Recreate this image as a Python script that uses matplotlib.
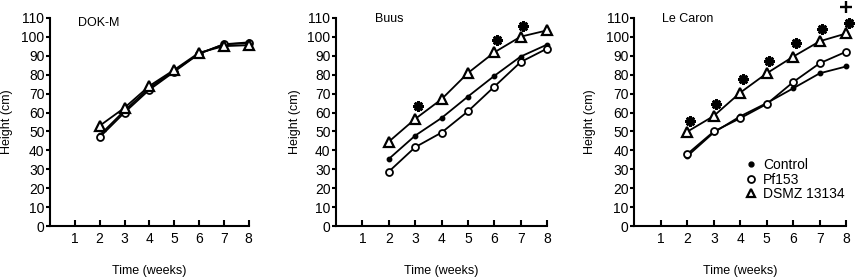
import matplotlib
matplotlib.use("Agg")
import matplotlib.pyplot as plt
from matplotlib.lines import Line2D

plt.rcParams['font.family'] = ['Liberation Sans', 'DejaVu Sans']

weeks = [2, 3, 4, 5, 6, 7, 8]
panels = ["DOK-M", "Buus", "Le Caron"]

dok_control = [48, 61, 73, 82, 91, 96, 97]
dok_pf153 = [47, 60, 72, 81.5, 91, 96, 96.5]
dok_dsmz = [53, 62.5, 74, 82.5, 91.5, 95, 95.5]

buus_control = [35.5, 47.8, 57.1, 68.4, 79.3, 89.5, 95.8]
buus_pf153 = [28.8, 41.7, 49.4, 60.6, 73.6, 86.6, 93.7]
buus_dsmz = [44.6, 56.6, 67, 80.8, 91.7, 100, 103.3]
buus_star_weeks = [3, 6, 7]
buus_star_vals = [63.4, 98.4, 105.6]

lec_control = [37, 49.5, 58, 65, 72.8, 80.7, 84.3]
lec_pf153 = [38.1, 50, 57, 64.5, 76.1, 86, 92.1]
lec_dsmz = [49.9, 58.2, 70.5, 80.7, 89.5, 97.6, 101.7]
lec_star_weeks = [2, 3, 4, 5, 6, 7, 8]
lec_star_vals = [55.5, 64.5, 77.5, 87.4, 96.5, 104, 107.4]
lec_plus_weeks = [8]
lec_plus_vals = [115.5]

series_names = ["Control", "Pf153", "DSMZ 13134"]

W, H = 856, 280
fig = plt.figure(figsize=(W / 100, H / 100), dpi=100)

# axes pixel boxes: (left, right)
boxes = [(50, 248.7), (336, 547), (634.3, 846.3)]
top_px, bot_px = 17.7, 226.3
ylab_off = [37.3, 35.0, 38.0]

data = [
    (dok_control, dok_pf153, dok_dsmz, [], [], [], []),
    (buus_control, buus_pf153, buus_dsmz, buus_star_weeks, buus_star_vals, [], []),
    (lec_control, lec_pf153, lec_dsmz, lec_star_weeks, lec_star_vals, lec_plus_weeks, lec_plus_vals),
]
title_px = [(78, 22.7), (375, 19), (662.3, 19)]

fs_tick = 10
fs_lab = 9
for i, (l, r) in enumerate(boxes):
    ax = fig.add_axes([l / W, (H - bot_px) / H, (r - l) / W, (bot_px - top_px) / H])
    ctrl, pf, ds, sw, sv, pw, pv = data[i]
    lw = 1.3
    ax.plot(weeks, ctrl, color='black', lw=lw, marker='o', ms=3.2,
            mfc='black', mec='black', clip_on=False, zorder=3)
    ax.plot(weeks, pf, color='black', lw=lw, marker='o', ms=5,
            mfc='white', mec='black', mew=1.3, clip_on=False, zorder=3)
    ax.plot(weeks, ds, color='black', lw=lw, marker='^', ms=6.8,
            mfc='white', mec='black', mew=1.6, clip_on=False, zorder=3)
    if sw:
        ax.plot([w + 0.1 for w in sw], sv, ls='none', marker=(8, 2, 0), ms=7.5,
                mec='black', mew=1.9, clip_on=False, zorder=4)
    if pw:
        ax.plot(pw, pv, ls='none', marker='+', ms=8, mec='black', mew=1.7,
                clip_on=False, zorder=4)

    ax.set_xlim(0, 8)
    ax.set_ylim(0, 110)
    ax.set_xticks(range(1, 9))
    ax.set_yticks(range(0, 111, 10))
    for s in ['top', 'right']:
        ax.spines[s].set_visible(False)
    for s in ['left', 'bottom']:
        ax.spines[s].set_linewidth(1.5)
    ax.tick_params(axis='x', direction='in', length=4, width=1.5, pad=4, labelsize=fs_tick)
    ax.tick_params(axis='y', direction='out', length=3, width=1.5, pad=1, labelsize=fs_tick)

    wpx = r - l
    hpx = bot_px - top_px
    ax.set_xlabel("Time (weeks)", fontsize=fs_lab)
    ax.xaxis.set_label_coords(0.5, -38.7 / hpx)
    ax.set_ylabel("Height (cm)", fontsize=fs_lab)
    ax.yaxis.set_label_coords(-ylab_off[i] / wpx, 0.5)

    tx, ty = title_px[i]
    ax.text((tx - l) / wpx, (bot_px - ty) / hpx, panels[i], fontsize=fs_lab,
            ha='left', va='center', transform=ax.transAxes)

    if i == 2:
        handles = [
            Line2D([], [], ls='none', marker='o', ms=3.5, mfc='black', mec='black'),
            Line2D([], [], ls='none', marker='o', ms=5, mfc='white', mec='black', mew=1.3),
            Line2D([], [], ls='none', marker='^', ms=6, mfc='white', mec='black', mew=1.6),
        ]
        ax.legend(handles, series_names, loc='center left',
                  bbox_to_anchor=((745 - l) / wpx, (bot_px - 179.5) / hpx),
                  frameon=False, fontsize=10, handlelength=0.8,
                  handletextpad=0.5, labelspacing=0.05, borderpad=0,
                  borderaxespad=0)

fig.savefig("out.png", dpi=100)
